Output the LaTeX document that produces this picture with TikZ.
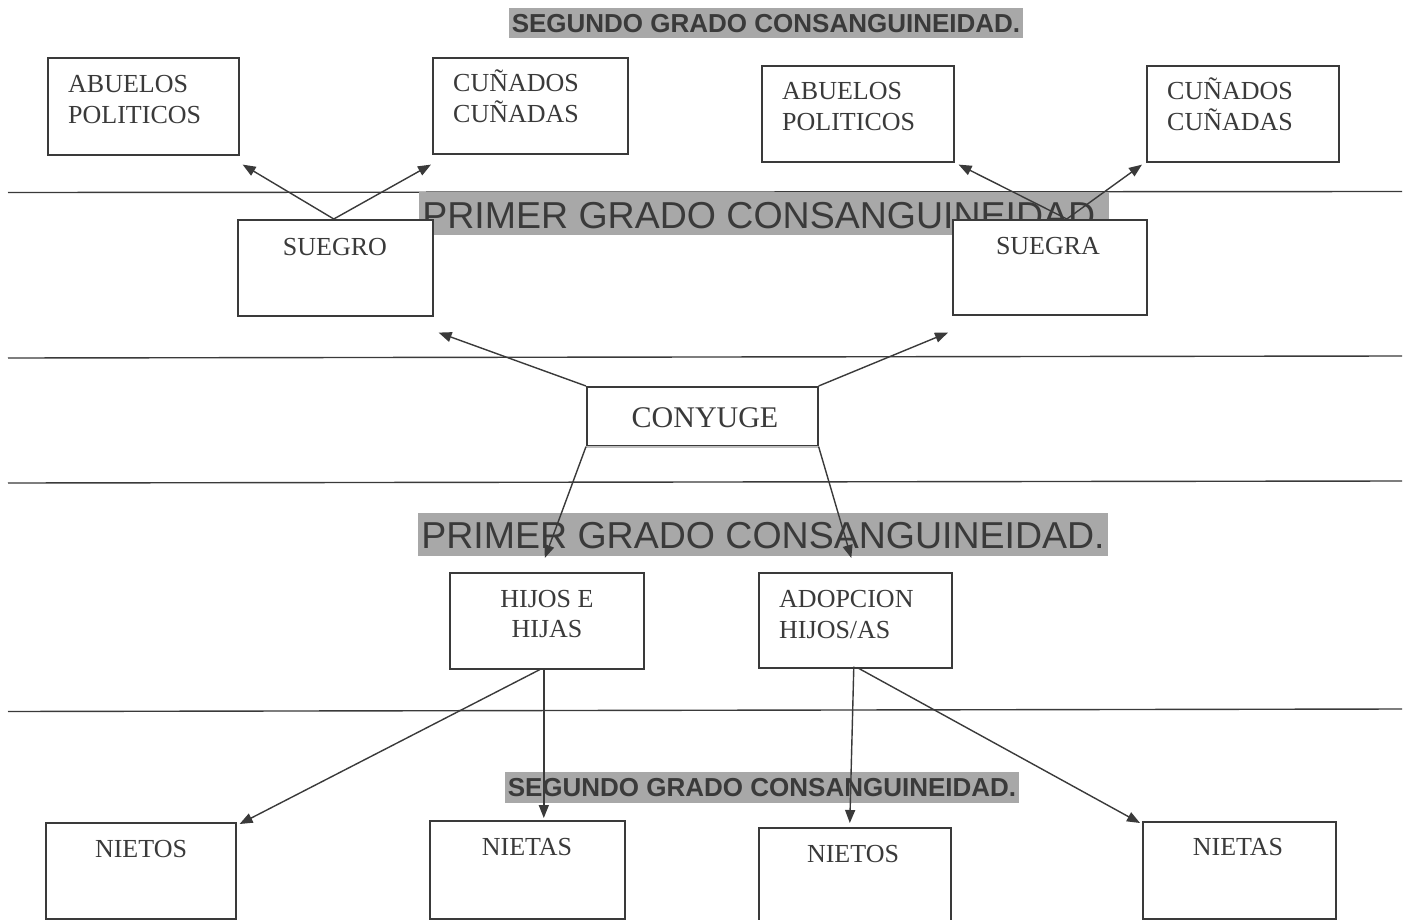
\documentclass[tikz,border=0pt]{standalone}
\usepackage{fontspec}
\setmainfont{Liberation Serif}
\newfontfamily\arialf{Liberation Sans}
\usetikzlibrary{arrows.meta,calc}
\definecolor{ink}{HTML}{3A3A3A}
\definecolor{hl}{HTML}{A8A8A8}
\definecolor{lbl}{HTML}{3A3A3A}
\begin{document}
\begin{tikzpicture}[x=1pt,y=-1pt,
  box/.style={draw=ink, line width=1.6pt, fill=white, rectangle, inner sep=0pt, anchor=north west},
  txt/.style={font=\fontsize{26}{31}\selectfont, text=ink, inner sep=0pt},
  hline/.style={draw=ink, line width=1.4pt},
  biglab/.style={font=\arialf\fontsize{37.5}{37.5}\selectfont, text=lbl, fill=hl, inner xsep=3pt, inner ysep=0pt, anchor=base},
  boldlab/.style={font=\arialf\bfseries\fontsize{26}{26}\selectfont, text=lbl, fill=hl, inner xsep=3pt, inner ysep=0pt, anchor=base},
  conn/.style={draw=ink, line width=1.4pt, -{Triangle[length=13pt,width=10pt]}}]
\useasboundingbox (0,0) rectangle (1407,920);
\fill[white] (0,0) rectangle (1407,920);
% horizontal separators
\draw[hline] (8,192.5) -- (1402,191.5);
\draw[hline] (8,358) -- (1402,356);
\draw[hline] (8,483) -- (1402,481);
\draw[hline] (8,711.5) -- (1402,709);
% grade labels
\node[boldlab, text height=25pt, text depth=5pt] (seg1) at (766,33) {SEGUNDO GRADO CONSANGUINEIDAD.};
\node[biglab, text height=36pt, text depth=7pt] (pri1) at (764,228) {PRIMER GRADO CONSANGUINEIDAD\phantom{.}};
\node[biglab, text height=35pt, text depth=8pt] (pri2) at (763,548) {PRIMER GRADO CONSANGUINEIDAD.};
\node[boldlab, text height=24pt, text depth=7pt] (seg2) at (762,796) {SEGUNDO GRADO CONSANGUINEIDAD.};
% boxes
\node[box, minimum width=191pt, minimum height=97pt] (ab1) at (47,57) {};
\node[box, minimum width=195pt, minimum height=96pt] (cu1) at (432,57) {};
\node[box, minimum width=192pt, minimum height=96pt] (ab2) at (761,65) {};
\node[box, minimum width=192pt, minimum height=96pt] (cu2) at (1146,65) {};
\node[box, minimum width=195pt, minimum height=96pt] (suegro) at (237,219) {};
\node[box, minimum width=194pt, minimum height=95pt] (suegra) at (952,219) {};
\node[box, minimum width=231pt, minimum height=59pt] (cony) at (586,386) {};
\draw[draw=black!25, line width=2pt] (cony.south west) -- (cony.south east);
\node[box, minimum width=194pt, minimum height=96pt] (hijos) at (449,572) {};
\node[box, minimum width=193pt, minimum height=95pt] (adop) at (758,572) {};
\node[box, minimum width=190pt, minimum height=96pt] (nietos1) at (45,822) {};
\node[box, minimum width=195pt, minimum height=98pt] (nietas1) at (429,820) {};
\node[box, minimum width=192pt, minimum height=98pt] (nietos2) at (758,827) {};
\node[box, minimum width=193pt, minimum height=97pt] (nietas2) at (1142,821) {};
% box texts
\node[txt, anchor=base west] (t1a) at (68,93) {ABUELOS};
\node[txt, anchor=base west] (t1b) at (68,124) {POLITICOS};
\node[txt, anchor=base west] (t2a) at (453,92) {CUÑADOS};
\node[txt, anchor=base west] (t2b) at (453,123) {CUÑADAS};
\node[txt, anchor=base west] (t3a) at (782,100) {ABUELOS};
\node[txt, anchor=base west] (t3b) at (782,131) {POLITICOS};
\node[txt, anchor=base west] (t4a) at (1167,100) {CUÑADOS};
\node[txt, anchor=base west] (t4b) at (1167,131) {CUÑADAS};
\node[txt, anchor=base] (t5) at (335,255) {SUEGRO};
\node[txt, anchor=base] (t6) at (1048,254) {SUEGRA};
\node[txt, anchor=base, font=\fontsize{30}{30}\selectfont] (t7) at (705,427) {CONYUGE};
\node[txt, anchor=base] (t8a) at (547,607) {HIJOS E};
\node[txt, anchor=base] (t8b) at (547,637) {HIJAS};
\node[txt, anchor=base west] (t9a) at (779,607) {ADOPCION};
\node[txt, anchor=base west] (t9b) at (779,638) {HIJOS/AS};
\node[txt, anchor=base] (t10) at (141,857) {NIETOS};
\node[txt, anchor=base] (t11) at (527,855) {NIETAS};
\node[txt, anchor=base] (t12) at (853,862) {NIETOS};
\node[txt, anchor=base] (t13) at (1238,855) {NIETAS};
% connectors
\draw[conn] ($(suegro.north)+(-1.5,0)$) -- ($(ab1.south east)+(3,9)$);
\draw[conn] ($(suegro.north)+(-1.5,0)$) -- ($(cu1.south west)+(-1,10)$);
\draw[conn] ($(suegra.north)+(17,0)$) -- ($(ab2.south east)+(4,2)$);
\draw[conn] ($(suegra.north)+(17,0)$) -- ($(cu2.south west)+(-4,2)$);
\draw[conn] (cony.north west) -- ($(suegro.south east)+(5,16)$);
\draw[conn] (cony.north east) -- ($(suegra.south west)+(-4,17)$);
\draw[conn] (cony.south west) -- ($(hijos.north)+(-2,-14)$);
\draw[conn] (cony.south east) -- ($(adop.north)+(-4,-14)$);
\draw[conn] ($(hijos.south)+(-7,0)$) -- ($(nietos1.north east)+(3,2)$);
\draw[conn] ($(hijos.south)+(-3,0)$) -- ($(nietas1.north)+(16.5,-2)$);
\draw[conn] ($(adop.south)+(-1.5,-2)$) -- ($(nietos2.north)+(-5,-4)$);
\draw[conn] ($(adop.south)+(2,-1)$) -- ($(nietas2.north west)+(-2,2)$);
\end{tikzpicture}
\end{document}
